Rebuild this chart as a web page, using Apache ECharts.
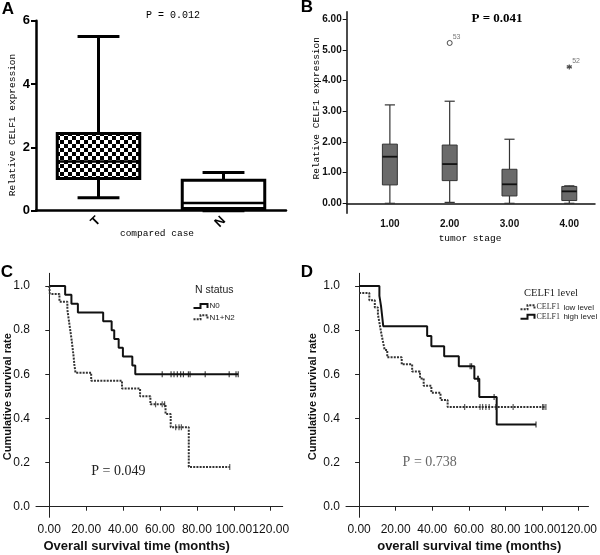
<!DOCTYPE html>
<html><head><meta charset="utf-8">
<script src="https://cdn.jsdelivr.net/npm/echarts@6/dist/echarts.min.js"></script>
<style>html,body{margin:0;padding:0;background:#fff}#c{width:600px;height:555px}</style>
</head><body><div id="c"></div>
<script>
// ---------- Panel A: relative CELF1 expression, T vs N ----------
const aCategories = ['T', 'N'];
const aMin    = [0.41, 0.00];
const aQ1     = [1.02, 0.07];
const aMedian = [1.55, 0.24];
const aQ3     = [2.44, 0.96];
const aMax    = [5.50, 1.21];
const aYTicks = [0, 2, 4, 6];

// ---------- Panel B: expression by tumor stage ----------
const bStages = [1, 2, 3, 4];
const bMin    = [0.00, 0.03, 0.00, 0.00];
const bQ1     = [0.60, 0.74, 0.24, 0.09];
const bMedian = [1.52, 1.28, 0.62, 0.39];
const bQ3     = [1.93, 1.90, 1.11, 0.55];
const bMax    = [3.21, 3.33, 2.09, 0.57];
const bOutlierStage = [2, 4];
const bOutlierValue = [5.23, 4.45];
const bOutlierCase  = ['53', '52'];
const bYTicks = [0, 1, 2, 3, 4, 5, 6];

// ---------- Panel C: survival by N status ----------
const cN0Time = [0, 8.6, 12.0, 15.5, 29.2, 33.8, 35.2, 37.6, 39.9, 45.0, 46.6, 102.4];
const cN0Surv = [1, 0.96, 0.92, 0.88, 0.84, 0.80, 0.76, 0.72, 0.68, 0.64, 0.60, 0.60];
const cN0CensorTime = [61.2, 66.0, 67.6, 69.4, 71.2, 72.7, 75.4, 76.3, 84.5, 97.5, 101.2, 102.4];
const cN0CensorSurv = [0.60, 0.60, 0.60, 0.60, 0.60, 0.60, 0.60, 0.60, 0.60, 0.60, 0.60, 0.60];
const cN12Time = [0, 0.3, 5.5, 9.8, 10.4, 11.0, 11.6, 12.2, 12.7, 13.2, 13.6, 14.2, 22.7, 39.4, 49.2, 54.8, 63.0, 65.8, 75.6, 97.8];
const cN12Surv = [1, 0.964, 0.929, 0.893, 0.857, 0.821, 0.786, 0.750, 0.714, 0.679, 0.643, 0.607, 0.571, 0.536, 0.500, 0.464, 0.420, 0.360, 0.180, 0.180];
const cN12CensorTime = [57.6, 61.2, 62.5, 68.5, 70.3, 71.6, 97.8];
const cN12CensorSurv = [0.464, 0.464, 0.464, 0.360, 0.360, 0.360, 0.180];

// ---------- Panel D: survival by CELF1 level ----------
const dLowTime = [0, 5.6, 8.6, 10.3, 11.0, 11.7, 12.4, 13.2, 14.0, 15.4, 23.3, 29.0, 33.3, 35.3, 39.5, 44.5, 48.4, 102.1];
const dLowSurv = [0.968, 0.935, 0.903, 0.871, 0.839, 0.806, 0.774, 0.742, 0.710, 0.677, 0.645, 0.613, 0.581, 0.548, 0.516, 0.484, 0.452, 0.452];
const dLowCensorTime = [57.7, 66.1, 67.5, 69.3, 71.1, 74.7, 84.2, 100.3, 101.0, 102.1];
const dLowCensorSurv = [0.452, 0.452, 0.452, 0.452, 0.452, 0.452, 0.452, 0.452, 0.452, 0.452];
const dHighTime = [0, 11.1, 12.0, 12.6, 13.2, 37.2, 39.5, 46.5, 54.5, 63.0, 65.7, 75.2, 96.7];
const dHighSurv = [1, 0.955, 0.909, 0.864, 0.818, 0.773, 0.727, 0.682, 0.636, 0.580, 0.497, 0.373, 0.373];
const dHighCensorTime = [60.7, 61.5, 64.8, 65.2, 73.8, 96.7];
const dHighCensorSurv = [0.636, 0.636, 0.580, 0.580, 0.497, 0.373];

const survTicks = [0, 0.2, 0.4, 0.6, 0.8, 1.0];
const timeTicks = [0, 20, 40, 60, 80, 100, 120];

// ---------- helpers ----------
const pc = document.createElement('canvas'); pc.width = 8; pc.height = 8;
const g = pc.getContext('2d');
g.fillStyle = '#fff'; g.fillRect(0, 0, 8, 8);
g.fillStyle = '#000'; g.fillRect(0, 0, 4, 4); g.fillRect(4, 4, 4, 4);
const checker = { image: pc, repeat: 'repeat' };

function boxRenderer(boxFrac, capFrac, st) {
  return function (params, api) {
    const x = api.value(0);
    const band = api.size([1, 0])[0];
    const bw = band * boxFrac, cw = band * capFrac;
    const pMin = api.coord([x, api.value(1)]);
    const pQ1 = api.coord([x, api.value(2)]);
    const pMed = api.coord([x, api.value(3)]);
    const pQ3 = api.coord([x, api.value(4)]);
    const pMax = api.coord([x, api.value(5)]);
    const cx = pMed[0];
    const ws = { stroke: st.whisker, lineWidth: st.wWidth };
    const fill = typeof st.fill === 'function' ? st.fill(params.dataIndex) : st.fill;
    return {
      type: 'group',
      children: [
        { type: 'line', shape: { x1: cx, y1: pQ3[1], x2: cx, y2: pMax[1] }, style: ws },
        { type: 'line', shape: { x1: cx, y1: pQ1[1], x2: cx, y2: pMin[1] }, style: ws },
        { type: 'line', shape: { x1: cx - cw / 2, y1: pMax[1], x2: cx + cw / 2, y2: pMax[1] }, style: ws },
        { type: 'line', shape: { x1: cx - cw / 2, y1: pMin[1], x2: cx + cw / 2, y2: pMin[1] }, style: ws },
        { type: 'rect', shape: { x: cx - bw / 2, y: pQ3[1], width: bw, height: pQ1[1] - pQ3[1] },
          style: { fill: fill, stroke: st.stroke, lineWidth: st.bWidth } },
        { type: 'line', shape: { x1: cx - bw / 2, y1: pMed[1], x2: cx + bw / 2, y2: pMed[1] },
          style: { stroke: st.median, lineWidth: st.mWidth } }
      ]
    };
  };
}
const pair = (xs, ys) => xs.map((v, i) => [v, ys[i]]);

const sans = 'Liberation Sans, Arial, sans-serif';
const mono = 'Liberation Mono, monospace';
const serif = 'Liberation Serif, serif';

const aData = aCategories.map((c, i) => [i, aMin[i], aQ1[i], aMedian[i], aQ3[i], aMax[i]]);
const bData = bStages.map((s, i) => [s, bMin[i], bQ1[i], bMedian[i], bQ3[i], bMax[i]]);

const survX = (gi, min, max) => ({
  gridIndex: gi, type: 'value', min: min, max: max,
  splitLine: { show: false },
  axisLine: { lineStyle: { color: '#222', width: 1 } },
  axisTick: { show: true, length: 4, customValues: timeTicks, lineStyle: { color: '#222' } },
  axisLabel: { customValues: timeTicks, formatter: v => v.toFixed(2), fontFamily: sans, fontSize: 12, color: '#111', margin: 6 }
});
const survY = (gi) => ({
  gridIndex: gi, type: 'value', min: -0.048, max: 1.0575,
  splitLine: { show: false },
  axisLine: { show: true, lineStyle: { color: '#222', width: 1 } },
  axisTick: { show: true, length: 4, customValues: survTicks, lineStyle: { color: '#222' } },
  axisLabel: { customValues: survTicks, formatter: v => v.toFixed(1), fontFamily: sans, fontSize: 12, color: '#111', margin: 6 }
});
const kmLine = (xi, data, dashed) => ({
  type: 'line', xAxisIndex: xi, yAxisIndex: xi, data: data, step: 'end', symbol: 'none',
  lineStyle: dashed ? { color: '#333', width: 2, type: [2, 1.2] } : { color: '#111', width: 2 },
  silent: true, z: 3
});
const censor = (xi, data, color) => ({
  type: 'scatter', xAxisIndex: xi, yAxisIndex: xi, data: data, symbol: 'rect', symbolSize: [1.2, 6],
  itemStyle: { color: color }, silent: true, z: 4
});

const T = (text, x, y, font, extra) => Object.assign({
  type: 'text', x: x, y: y,
  style: Object.assign({ text: text, align: 'center', verticalAlign: 'middle', fill: '#000' }, font)
}, extra || {});
const stepIcon = (x, y, dashed) => ({
  type: 'polyline',
  shape: { points: [[x, y + 2], [x + 7, y + 2], [x + 7, y - 2], [x + 14, y - 2], [x + 14, y + 2]] },
  style: { stroke: dashed ? '#333' : '#111', lineWidth: 2, fill: null, lineDash: dashed ? [2, 1.2] : null }
});

const option = {
  animation: false,
  backgroundColor: '#fff',
  grid: [
    { left: 36, top: 20.7, width: 250, height: 190 },
    { left: 346.7, top: 11.7, width: 248.3, height: 201.6 },
    { left: 36, top: 273.3, width: 246.7, height: 244 },
    { left: 346, top: 273.3, width: 246.7, height: 244 }
  ],
  xAxis: [
    { gridIndex: 0, type: 'category', data: aCategories, boundaryGap: true,
      axisLine: { lineStyle: { color: '#000', width: 2.5 } },
      axisTick: { alignWithLabel: true, length: 5, lineStyle: { color: '#000', width: 2 } },
      axisLabel: { rotate: 45, fontFamily: sans, fontWeight: 'bold', fontSize: 13, color: '#000', margin: 8 } },
    { gridIndex: 1, type: 'value', min: 0.278, max: 4.43, splitLine: { show: false },
      axisLine: { lineStyle: { color: '#111', width: 1.5 } },
      axisTick: { show: false },
      axisLabel: { customValues: bStages, formatter: v => v.toFixed(2), fontFamily: sans, fontWeight: 'bold', fontSize: 10, color: '#111', margin: 6 } },
    survX(2, -7.2, 126.5),
    survX(3, -7.15, 125.4)
  ],
  yAxis: [
    { gridIndex: 0, type: 'value', min: 0, max: 6, interval: 2, splitLine: { show: false },
      axisLine: { show: true, lineStyle: { color: '#000', width: 2.5 } },
      axisTick: { show: true, length: 5, lineStyle: { color: '#000', width: 2 } },
      axisLabel: { fontFamily: sans, fontWeight: 'bold', fontSize: 13, color: '#000', margin: 6 } },
    { gridIndex: 1, type: 'value', min: -0.326, max: 6.25, splitLine: { show: false },
      axisLine: { show: true, lineStyle: { color: '#111', width: 1.5 } },
      axisTick: { show: true, length: 4, customValues: bYTicks, lineStyle: { color: '#111' } },
      axisLabel: { customValues: bYTicks, formatter: v => v.toFixed(2), fontFamily: sans, fontWeight: 'bold', fontSize: 10, color: '#111', margin: 5 } },
    survY(2),
    survY(3)
  ],
  series: [
    { type: 'custom', xAxisIndex: 0, yAxisIndex: 0, data: aData, silent: true,
      renderItem: boxRenderer(0.66, 0.335, { fill: i => i === 0 ? checker : '#fff', stroke: '#000', bWidth: 3, whisker: '#000', wWidth: 3, median: '#000', mWidth: 2.5 }) },
    { type: 'custom', xAxisIndex: 1, yAxisIndex: 1, data: bData, silent: true,
      renderItem: boxRenderer(0.25, 0.17, { fill: '#6a6a6a', stroke: '#333', bWidth: 1, whisker: '#333', wWidth: 1.2, median: '#111', mWidth: 1.8 }) },
    { type: 'scatter', xAxisIndex: 1, yAxisIndex: 1, silent: true,
      data: [pair(bOutlierStage, bOutlierValue)[0]], symbol: 'circle', symbolSize: 5,
      itemStyle: { color: '#fff', borderColor: '#222', borderWidth: 1 },
      label: { show: true, formatter: () => bOutlierCase[0], position: [6, -6], fontSize: 7, color: '#555', fontFamily: sans } },
    { type: 'scatter', xAxisIndex: 1, yAxisIndex: 1, silent: true,
      data: [pair(bOutlierStage, bOutlierValue)[1]],
      symbol: 'path://M0,-10L0,10M-9,-5L9,5M-9,5L9,-5', symbolSize: 5,
      itemStyle: { color: '#222', borderColor: '#222', borderWidth: 1.2 },
      label: { show: true, formatter: () => bOutlierCase[1], position: [6, -6], fontSize: 7, color: '#555', fontFamily: sans } },
    kmLine(2, pair(cN0Time, cN0Surv), false),
    kmLine(2, pair(cN12Time, cN12Surv), true),
    censor(2, pair(cN0CensorTime, cN0CensorSurv), '#111'),
    censor(2, pair(cN12CensorTime, cN12CensorSurv), '#333'),
    kmLine(3, pair(dLowTime, dLowSurv), true),
    kmLine(3, pair(dHighTime, dHighSurv), false),
    censor(3, pair(dLowCensorTime, dLowCensorSurv), '#333'),
    censor(3, pair(dHighCensorTime, dHighCensorSurv), '#111')
  ],
  graphic: [
    T('A', 8, 9, { font: 'bold 17px ' + sans }),
    T('B', 307, 7, { font: 'bold 17px ' + sans }),
    T('C', 7, 272, { font: 'bold 17px ' + sans }),
    T('D', 307, 272, { font: 'bold 17px ' + sans }),
    // Panel A texts
    T('P = 0.012', 173, 15, { font: '10px ' + mono }),
    T('Relative CELF1 expression', 12.5, 125, { font: '9.5px ' + mono }, { rotation: Math.PI / 2 }),
    T('compared case', 157, 233, { font: '9.5px ' + mono }),
    // Panel B texts
    T('P = 0.041', 497, 18.5, { font: 'bold 13px ' + serif }),
    T('Relative CELF1 expression', 316, 108.3, { font: '9.5px ' + mono }, { rotation: Math.PI / 2 }),
    T('tumor stage', 470, 238, { font: '9.5px ' + mono }),
    // Panel C texts
    T('N status', 195, 290, { font: '10.5px ' + sans, align: 'left', fill: '#222' }),
    stepIcon(193.5, 306, false),
    stepIcon(193.5, 317.3, true),
    T('N0', 209.5, 306, { font: '8px ' + sans, align: 'left', fill: '#222' }),
    T('N1+N2', 209.5, 317.3, { font: '8px ' + sans, align: 'left', fill: '#222' }),
    T('P = 0.049', 118.3, 471.7, { font: '14px ' + serif, fill: '#222' }),
    T('Overall survival time (months)', 136.7, 546.7, { font: 'bold 13px ' + sans, fill: '#111' }),
    T('Cumulative survival rate', 8.3, 396.7, { font: 'bold 11px ' + sans, fill: '#111' }, { rotation: Math.PI / 2 }),
    // Panel D texts
    T('CELF1 level', 551, 293.3, { font: '10.5px ' + serif, fill: '#222' }),
    stepIcon(520.5, 307.3, true),
    stepIcon(520.5, 316.7, false),
    T('{s|CELF1} {a|low level}', 536.5, 307.3, { align: 'left', rich: { s: { fontFamily: serif, fontSize: 8, fill: '#333' }, a: { fontFamily: sans, fontSize: 8, fill: '#222' } } }),
    T('{s|CELF1} {a|high level}', 536.5, 316.7, { align: 'left', rich: { s: { fontFamily: serif, fontSize: 8, fill: '#333' }, a: { fontFamily: sans, fontSize: 8, fill: '#222' } } }),
    T('P = 0.738', 429.7, 462.3, { font: '14px ' + serif, fill: '#666' }),
    T('overall survival time (months)', 469.3, 546.7, { font: 'bold 13px ' + sans, fill: '#111' }),
    T('Cumulative survival rate', 313.3, 396.7, { font: 'bold 11px ' + sans, fill: '#111' }, { rotation: Math.PI / 2 })
  ]
};
const chart = echarts.init(document.getElementById('c'), null, { renderer: 'canvas' });
chart.setOption(option);
</script></body></html>
